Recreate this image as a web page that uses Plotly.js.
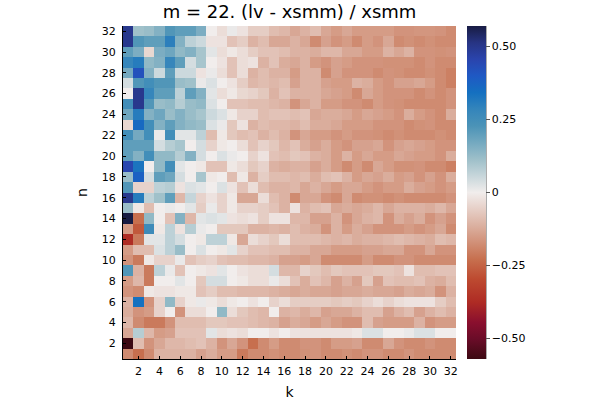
<!DOCTYPE html>
<html>
<head>
<meta charset="utf-8">
<script src="https://cdn.plot.ly/plotly-3.0.1.min.js"></script>
<style>html,body{margin:0;padding:0;background:#fff;}#chart{width:600px;height:400px;}</style>
</head>
<body>
<div id="chart"></div>
<script>
// k values (columns) and n values (rows)
const kValues = Array.from({length: 32}, (_, i) => i + 1);
const nValues = Array.from({length: 32}, (_, i) => i + 1);
const xTickVals = [2,4,6,8,10,12,14,16,18,20,22,24,26,28,30,32];
const yTickVals = [2,4,6,8,10,12,14,16,18,20,22,24,26,28,30,32];
const cbTickVals = [-0.5, -0.25, 0, 0.25, 0.5];
const cbTickText = ['\u22120.50', '\u22120.25', '0', '0.25', '0.50'];
const titleText = 'm = 22. (lv - xsmm) / xsmm';

// rows of values, n = 1 first
const n01 = [-0.18,-0.23,-0.18,-0.11,-0.11,-0.11,-0.11,-0.14,-0.12,-0.15,-0.15,-0.21,-0.18,-0.18,-0.17,-0.18,-0.18,-0.17,-0.165,-0.18,-0.18,-0.17,-0.18,-0.165,-0.165,-0.18,-0.18,-0.165,-0.18,-0.18,-0.18,-0.18];
const n02 = [-0.57,-0.09,-0.165,-0.13,-0.10,-0.10,-0.09,-0.08,-0.11,-0.165,-0.13,-0.165,-0.23,-0.18,-0.15,-0.18,-0.18,-0.165,-0.165,-0.18,-0.15,-0.15,-0.14,-0.18,-0.18,-0.13,-0.165,-0.18,-0.18,-0.165,-0.18,-0.18];
const n03 = [-0.13,0.08,-0.10,-0.15,-0.14,-0.08,-0.08,-0.08,0.02,-0.03,-0.02,-0.03,0.00,0.00,-0.02,0.00,-0.02,-0.02,-0.02,-0.02,-0.02,-0.02,-0.01,0.03,0.03,0.00,0.00,0.01,0.03,0.03,0.00,0.00];
const n04 = [-0.10,-0.18,-0.21,-0.21,-0.165,-0.09,-0.09,-0.09,-0.07,-0.07,-0.08,-0.08,-0.09,-0.10,-0.11,-0.14,-0.12,-0.13,-0.15,-0.13,-0.15,-0.165,-0.165,-0.09,-0.14,-0.15,-0.15,-0.15,-0.11,-0.165,-0.15,-0.15];
const n05 = [-0.12,-0.165,-0.15,-0.05,0.00,-0.165,-0.03,-0.03,0.00,0.13,-0.03,-0.07,-0.09,-0.10,0.00,-0.11,-0.10,-0.12,-0.10,-0.14,-0.13,-0.13,-0.11,-0.09,-0.09,-0.14,-0.11,-0.09,-0.14,-0.11,-0.09,-0.11];
const n06 = [-0.11,0.34,-0.165,-0.05,0.13,-0.05,-0.01,0.01,-0.01,-0.03,-0.01,0.00,-0.02,0.00,-0.05,-0.03,-0.06,-0.06,-0.06,-0.06,-0.07,-0.06,-0.07,-0.05,-0.03,-0.05,-0.03,-0.02,-0.02,-0.02,-0.06,-0.09];
const n07 = [-0.165,-0.18,-0.01,-0.02,-0.02,-0.01,-0.01,-0.08,-0.06,-0.09,-0.09,-0.10,-0.10,-0.10,-0.11,-0.12,-0.13,-0.12,-0.13,-0.13,-0.14,-0.13,-0.13,-0.12,-0.13,-0.13,-0.14,-0.12,-0.13,-0.12,-0.165,-0.11];
const n08 = [-0.15,-0.10,-0.21,0.00,0.00,0.02,0.00,-0.07,0.04,0.04,0.00,-0.01,-0.03,-0.03,0.01,-0.03,-0.08,-0.12,-0.08,-0.10,-0.14,-0.11,-0.14,-0.07,-0.14,-0.08,-0.09,-0.09,-0.08,-0.11,-0.12,-0.09];
const n09 = [0.22,-0.11,-0.21,0.07,0.01,-0.08,0.00,-0.01,-0.02,0.02,0.00,-0.02,-0.03,-0.03,0.04,-0.10,-0.10,-0.05,-0.07,-0.09,-0.07,-0.08,-0.08,-0.08,-0.07,-0.07,-0.08,-0.02,-0.09,-0.09,-0.08,-0.08];
const n10 = [-0.165,-0.21,-0.01,-0.05,-0.05,0.01,-0.08,-0.06,-0.05,-0.08,-0.09,-0.09,-0.10,-0.10,-0.11,-0.14,-0.14,-0.15,-0.13,-0.18,-0.18,-0.18,-0.18,-0.15,-0.18,-0.18,-0.165,-0.165,-0.18,-0.18,-0.18,-0.18];
const n11 = [-0.15,-0.09,-0.09,0.03,0.07,0.12,0.00,0.03,0.00,-0.01,0.02,-0.05,-0.08,-0.08,-0.09,-0.09,-0.11,-0.11,-0.13,-0.13,-0.15,-0.15,-0.15,-0.14,-0.14,-0.13,-0.13,-0.165,-0.165,-0.13,-0.165,-0.165];
const n12 = [-0.37,-0.21,0.02,0.02,0.07,0.04,0.00,-0.01,0.07,0.07,-0.01,-0.13,-0.03,-0.05,-0.07,-0.03,-0.09,-0.09,-0.09,-0.10,-0.11,-0.10,-0.12,-0.11,-0.11,-0.10,-0.09,-0.10,-0.11,-0.12,-0.09,-0.10];
const n13 = [-0.15,-0.27,0.26,-0.01,0.07,-0.02,0.08,0.01,0.00,-0.07,-0.07,-0.07,-0.11,-0.11,-0.10,-0.11,-0.09,-0.11,-0.12,-0.165,-0.11,-0.15,-0.12,-0.14,-0.165,-0.165,-0.165,-0.15,-0.165,-0.15,-0.13,-0.18];
const n14 = [0.57,-0.23,0.13,0.00,-0.08,0.15,-0.10,0.02,0.03,0.02,-0.02,-0.03,-0.02,-0.06,-0.02,-0.02,-0.10,-0.10,-0.14,-0.14,-0.11,-0.165,-0.13,-0.11,-0.10,-0.165,-0.12,-0.14,-0.12,-0.165,-0.14,-0.165];
const n15 = [0.12,-0.01,-0.09,0.00,0.01,0.00,0.02,-0.06,0.01,-0.05,-0.01,-0.05,-0.05,-0.06,-0.08,-0.11,-0.02,-0.11,-0.09,-0.08,-0.13,-0.12,-0.13,-0.12,-0.10,-0.13,-0.11,-0.11,-0.11,-0.12,-0.10,-0.13];
const n16 = [0.50,0.31,0.07,0.11,0.20,-0.10,0.06,-0.05,-0.02,-0.05,-0.01,-0.13,-0.13,-0.03,-0.09,-0.11,-0.18,-0.13,-0.13,-0.165,-0.18,-0.13,-0.18,-0.17,-0.17,-0.18,-0.17,-0.18,-0.18,-0.18,-0.18,-0.165];
const n17 = [0.22,-0.05,-0.05,0.07,0.08,-0.02,0.03,0.02,0.00,0.03,-0.02,-0.08,-0.03,-0.09,-0.11,-0.11,-0.10,-0.13,-0.11,-0.13,-0.15,-0.13,-0.13,-0.15,-0.165,-0.15,-0.15,-0.12,-0.14,-0.15,-0.165,-0.15];
const n18 = [0.12,0.38,0.04,0.20,0.18,0.04,0.00,0.10,-0.01,0.00,-0.09,-0.01,-0.11,-0.06,-0.09,-0.09,-0.10,-0.09,-0.12,-0.09,-0.08,-0.11,-0.15,-0.13,-0.14,-0.12,-0.15,-0.14,-0.165,-0.14,-0.165,-0.12];
const n19 = [0.45,0.33,0.00,0.13,0.25,0.02,0.00,-0.01,-0.08,-0.08,-0.01,-0.03,-0.07,-0.05,-0.11,-0.12,-0.11,-0.11,-0.14,-0.12,-0.15,-0.18,-0.15,-0.18,-0.13,-0.15,-0.17,-0.17,-0.165,-0.18,-0.18,-0.20];
const n20 = [0.20,0.15,0.25,0.13,0.13,0.08,0.15,0.04,0.00,0.03,0.01,0.00,-0.05,-0.02,-0.08,-0.09,-0.07,-0.08,-0.11,-0.12,-0.15,-0.11,-0.15,-0.13,-0.15,-0.15,-0.13,-0.14,-0.15,-0.15,-0.165,-0.12];
const n21 = [0.20,0.20,0.20,0.04,0.08,0.10,0.00,0.04,-0.05,-0.01,0.00,-0.03,-0.08,-0.05,-0.07,-0.10,-0.08,-0.12,-0.14,-0.12,-0.15,-0.165,-0.14,-0.14,-0.13,-0.165,-0.14,-0.13,-0.14,-0.15,-0.165,-0.165];
const n22 = [0.25,0.17,0.25,0.01,0.25,0.02,0.02,0.07,-0.09,-0.01,-0.07,-0.09,-0.08,-0.11,-0.09,-0.11,-0.165,-0.13,-0.15,-0.15,-0.165,-0.15,-0.165,-0.165,-0.17,-0.18,-0.17,-0.18,-0.18,-0.18,-0.17,-0.18];
const n23 = [-0.04,0.36,0.25,0.15,0.20,0.15,0.13,0.12,0.03,0.01,-0.07,-0.02,-0.11,-0.09,-0.10,-0.10,-0.11,-0.09,-0.12,-0.12,-0.13,-0.15,-0.15,-0.15,-0.165,-0.165,-0.165,-0.18,-0.17,-0.165,-0.18,-0.18];
const n24 = [0.18,0.31,0.15,0.18,0.12,0.15,0.12,0.10,0.05,0.03,-0.01,-0.05,-0.05,-0.09,-0.08,-0.08,-0.09,-0.08,-0.13,-0.12,-0.12,-0.13,-0.15,-0.13,-0.14,-0.15,-0.165,-0.12,-0.15,-0.165,-0.18,-0.12];
const n25 = [0.25,0.50,0.22,0.12,0.13,0.08,0.12,0.13,0.03,0.00,-0.08,-0.08,-0.09,-0.09,-0.10,-0.11,-0.165,-0.13,-0.11,-0.15,-0.15,-0.165,-0.165,-0.18,-0.15,-0.165,-0.17,-0.18,-0.18,-0.18,-0.18,-0.165];
const n26 = [0.00,0.50,0.28,0.20,0.20,0.07,0.20,0.15,0.02,-0.03,-0.01,-0.04,-0.05,-0.07,-0.11,-0.08,-0.11,-0.11,-0.11,-0.13,-0.14,-0.15,-0.18,-0.13,-0.15,-0.165,-0.165,-0.165,-0.18,-0.165,-0.18,-0.165];
const n27 = [0.04,0.22,0.25,0.22,0.22,0.12,0.11,0.01,0.03,0.00,-0.02,-0.06,-0.10,-0.09,-0.10,-0.09,-0.14,-0.11,-0.11,-0.14,-0.15,-0.15,-0.11,-0.12,-0.15,-0.165,-0.14,-0.14,-0.13,-0.15,-0.18,-0.20];
const n28 = [0.17,0.42,0.15,0.05,0.20,0.05,0.05,-0.02,0.01,-0.03,-0.08,-0.03,-0.11,-0.09,-0.11,-0.11,-0.15,-0.11,-0.11,-0.18,-0.14,-0.165,-0.165,-0.165,-0.18,-0.165,-0.17,-0.18,-0.18,-0.17,-0.18,-0.20];
const n29 = [0.28,0.31,0.13,0.15,0.28,0.20,0.04,0.10,0.00,-0.02,-0.08,-0.03,-0.02,-0.11,-0.08,-0.12,-0.13,-0.11,-0.15,-0.165,-0.14,-0.15,-0.165,-0.165,-0.165,-0.17,-0.17,-0.17,-0.18,-0.165,-0.18,-0.18];
const n30 = [0.20,0.16,-0.04,0.16,0.18,0.13,0.15,0.10,0.02,-0.03,-0.01,-0.03,-0.06,-0.08,-0.08,-0.09,-0.11,-0.11,-0.12,-0.10,-0.10,-0.13,-0.13,-0.15,-0.15,-0.11,-0.13,-0.11,-0.165,-0.165,-0.17,-0.165];
const n31 = [0.50,0.22,0.20,0.20,0.30,0.15,0.07,0.05,-0.02,-0.02,-0.08,-0.06,-0.11,-0.09,-0.13,-0.13,-0.11,-0.13,-0.18,-0.14,-0.165,-0.15,-0.18,-0.15,-0.165,-0.13,-0.18,-0.17,-0.18,-0.17,-0.18,-0.18];
const n32 = [0.50,0.11,0.12,0.15,0.22,0.20,0.20,0.16,0.00,-0.03,0.01,-0.02,-0.06,-0.06,-0.09,-0.10,-0.13,-0.11,-0.09,-0.13,-0.15,-0.13,-0.15,-0.15,-0.15,-0.15,-0.165,-0.165,-0.16,-0.16,-0.165,-0.18];

const zRows = [n01,n02,n03,n04,n05,n06,n07,n08,n09,n10,n11,n12,n13,n14,n15,n16,
               n17,n18,n19,n20,n21,n22,n23,n24,n25,n26,n27,n28,n29,n30,n31,n32];

const zLim = 0.57;

// reversed cmocean "balance"-like scale: red for negative, blue for positive
const balanceR = [
  [0.00, '#3c0912'],
  [0.06, '#6a0c28'],
  [0.11, '#8a0f2e'],
  [0.17, '#ae2b24'],
  [0.24, '#bd4a30'],
  [0.30, '#c7704f'],
  [0.40, '#dbb0a0'],
  [0.50, '#f1edec'],
  [0.60, '#9dbfc9'],
  [0.70, '#4b93b7'],
  [0.75, '#3485bb'],
  [0.80, '#1470c0'],
  [0.85, '#1f59c4'],
  [0.90, '#2a44ad'],
  [0.95, '#273483'],
  [1.00, '#181c43']
];

const trace = {
  type: 'heatmap',
  x: kValues,
  y: nValues,
  z: zRows,
  zmin: -zLim,
  zmax: zLim,
  colorscale: balanceR,
  zsmooth: false,
  xgap: 0, ygap: 0,
  colorbar: {
    x: 1.033, xanchor: 'left', xref: 'paper',
    y: 0.5, yanchor: 'middle',
    len: 1.0, lenmode: 'fraction',
    thickness: 19, thicknessmode: 'pixels',
    outlinewidth: 0,
    ypad: 0, xpad: 0,
    tickvals: cbTickVals, ticktext: cbTickText,
    ticks: 'outside', ticklen: 4, tickcolor: '#555',
    tickfont: {family: 'DejaVu Sans', size: 11, color: '#000'}
  }
};

const layout = {
  width: 600, height: 400,
  margin: {l: 123, r: 144, t: 26, b: 41, pad: 0},
  paper_bgcolor: '#fff', plot_bgcolor: '#fff',
  font: {family: 'DejaVu Sans', color: '#000'},
  title: {
    text: titleText,
    font: {family: 'DejaVu Sans', size: 18, color: '#000'},
    x: 0.5, xref: 'paper', xanchor: 'center',
    y: 0.97, yref: 'container', yanchor: 'middle'
  },
  xaxis: {
    range: [0.5, 32.5],
    tickvals: xTickVals,
    ticks: 'inside', ticklen: 3, tickcolor: '#000',
    ticklabelstandoff: 2,
    showline: true, linecolor: '#000', linewidth: 1,
    showgrid: false, zeroline: false,
    tickfont: {family: 'DejaVu Sans', size: 11, color: '#000'},
    title: {text: 'k', font: {family: 'DejaVu Sans', size: 14, color: '#000'}, standoff: 9}
  },
  yaxis: {
    range: [0.5, 32.5],
    tickvals: yTickVals,
    ticks: 'inside', ticklen: 3, tickcolor: '#000',
    ticklabelstandoff: 4,
    showline: true, linecolor: '#000', linewidth: 1,
    showgrid: false, zeroline: false,
    tickfont: {family: 'DejaVu Sans', size: 11, color: '#000'},
    title: {text: 'n', font: {family: 'DejaVu Sans', size: 14, color: '#000'}, standoff: 10}
  },
  shapes: [{
    type: 'line', xref: 'paper', yref: 'paper',
    x0: 1.033 + 19/333, x1: 1.033 + 19/333, y0: 0, y1: 1,
    line: {color: '#555', width: 1}
  }]
};

Plotly.newPlot('chart', [trace], layout, {displayModeBar: false, staticPlot: true});
</script>
</body>
</html>
